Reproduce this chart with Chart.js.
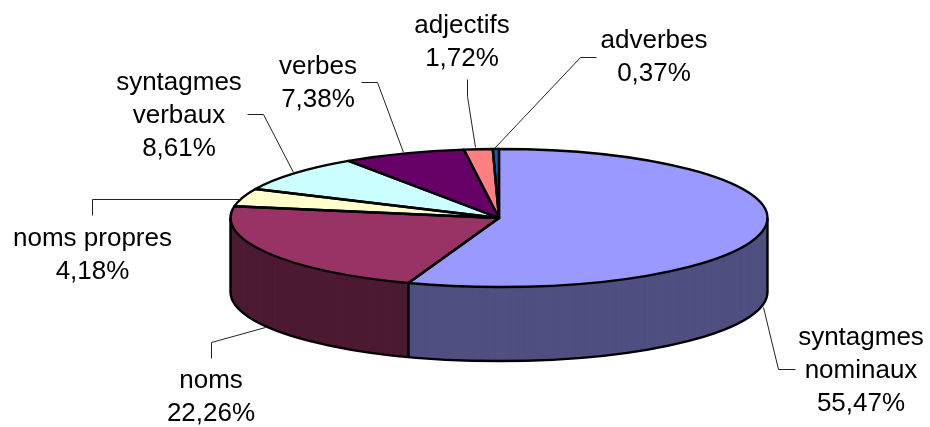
<!DOCTYPE html>
<html><head><meta charset="utf-8">
<style>html,body{margin:0;padding:0;background:#fff}#w{width:930px;height:427px;position:relative}</style>
<script src="https://cdn.jsdelivr.net/npm/chart.js@4/dist/chart.umd.min.js"></script>
</head><body><div id="w"><canvas id="c" width="930" height="427"></canvas></div>
<script>
const categories = ['syntagmes nominaux','noms','noms propres','syntagmes verbaux','verbes','adjectifs','adverbes'];
const values = [55.47,22.26,4.18,8.61,7.38,1.72,0.37];
const topColors = ['#9999FF','#993366','#FFFFCC','#CCFFFF','#660066','#FF8080','#0066CC'];
const sideColors = ['#4F4F80','#4D1A33','#80805F','#668080','#330033','#804040','#003366'];
const labelLines = [['syntagmes','nominaux'],['noms'],['noms propres'],['syntagmes','verbaux'],['verbes'],['adjectifs'],['adverbes']];
const labelCentres = [[861,337.5],[211,381],[92.5,238.5],[179,82.5],[318,66.5],[462,25.5],[654,40.5]];
const leaders = [
 [[795,369],[778,369],[763,307]],
 [[211,358],[211,342],[265,327]],
 [[92,215],[92,199],[240,199]],
 [[247,114],[263,114],[293,172]],
 [[361,82],[377,82],[403,152]],
 [[467,79],[467,96],[475,147]],
 [[596,57],[580,57],[494,148]]
];
const radiusX = 268.5, radiusY = 69, depth = 74, lineGap = 33;
const fontCss = '26px "Liberation Sans", Arial, sans-serif';

const pie3d = {
  id:'pie3d',
  beforeDatasetsDraw(chart){
    const ctx = chart.ctx, arcs = chart.getDatasetMeta(0).data;
    const cx = arcs[0].x, cy = arcs[0].y, k = radiusY/radiusX;
    const paint = (arc, color, dy) => {
      const saved = arc.options;
      arc.options = Object.assign({}, saved, {backgroundColor:color, borderWidth:0});
      ctx.save();
      ctx.translate(cx, cy+dy); ctx.scale(1,k); ctx.translate(-cx,-cy);
      arc.draw(ctx);
      ctx.restore();
      arc.options = saved;
    };
    for(let d=depth; d>=1; d--) arcs.forEach((a,i)=>paint(a, sideColors[i], d));
    arcs.forEach((a,i)=>paint(a, topColors[i], 0));
    ctx.save();
    ctx.strokeStyle='#000'; ctx.lineWidth=2.4; ctx.lineJoin='round';
    ctx.beginPath();
    ctx.moveTo(cx-radiusX,cy); ctx.lineTo(cx-radiusX,cy+depth);
    ctx.ellipse(cx,cy+depth,radiusX,radiusY,0,Math.PI,0,true);
    ctx.lineTo(cx+radiusX,cy);
    ctx.stroke();
    arcs.forEach(a=>{
      if(Math.sin(a.startAngle)>0){
        const x=cx+radiusX*Math.cos(a.startAngle), y=cy+radiusY*Math.sin(a.startAngle);
        ctx.beginPath(); ctx.moveTo(x,y); ctx.lineTo(x,y+depth); ctx.stroke();
      }
    });
    arcs.forEach(a=>{
      ctx.beginPath(); ctx.moveTo(cx,cy);
      ctx.ellipse(cx,cy,radiusX,radiusY,0,a.startAngle,a.endAngle);
      ctx.closePath(); ctx.stroke();
    });
    ctx.restore();
    return false;
  },
  afterDraw(chart){
    const ctx = chart.ctx;
    ctx.save();
    ctx.strokeStyle='#222'; ctx.lineWidth=1;
    leaders.forEach(p=>{
      ctx.beginPath(); ctx.moveTo(p[0][0]+.5,p[0][1]+.5);
      p.slice(1).forEach(q=>ctx.lineTo(q[0]+.5,q[1]+.5));
      ctx.stroke();
    });
    ctx.fillStyle='#000'; ctx.font=fontCss; ctx.textAlign='center'; ctx.textBaseline='middle';
    categories.forEach((c,i)=>{
      const lines = labelLines[i].concat(values[i].toFixed(2).replace('.',',')+'%');
      lines.forEach((t,j)=>ctx.fillText(t,labelCentres[i][0],labelCentres[i][1]+j*lineGap));
    });
    ctx.restore();
  }
};

new Chart(document.getElementById('c'),{
  type:'pie',
  data:{labels:categories,datasets:[{data:values,backgroundColor:topColors,borderWidth:0}]},
  options:{
    responsive:false,animation:false,radius:radiusX,
    layout:{padding:{left:68,top:9}},
    plugins:{legend:{display:false},tooltip:{enabled:false}}
  },
  plugins:[pie3d]
});
</script></body></html>
